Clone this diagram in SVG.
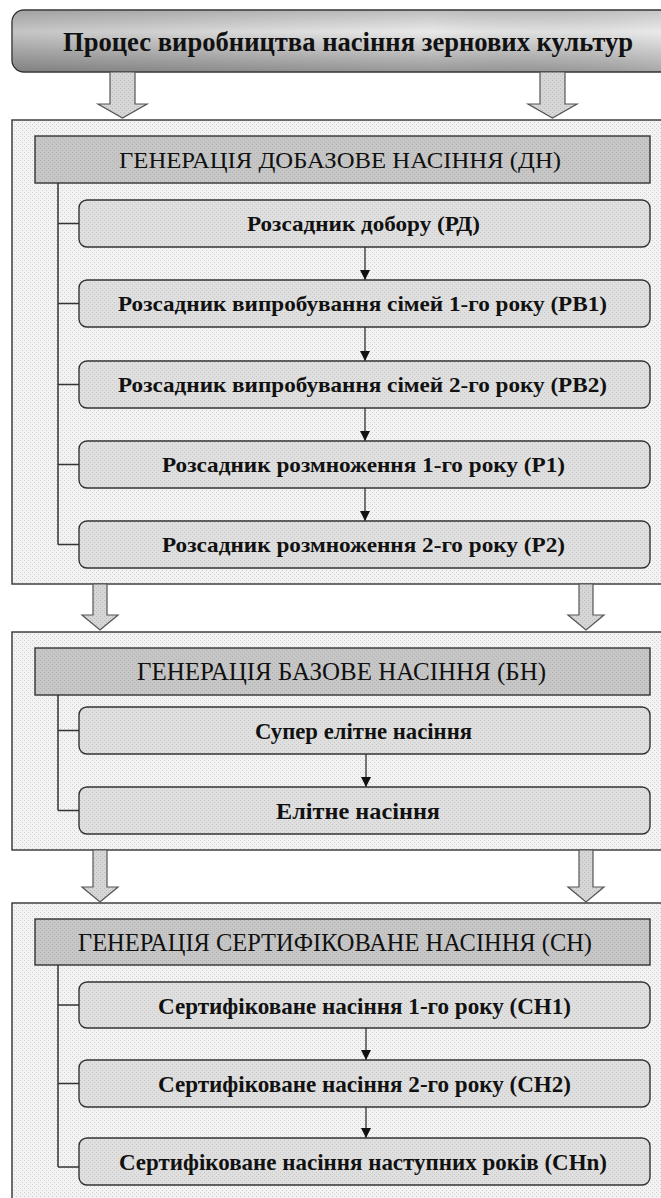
<svg xmlns="http://www.w3.org/2000/svg" width="661" height="1198" viewBox="0 0 661 1198">
<style>
.panel{fill:url(#pPanel);stroke:#333;stroke-width:1.4}
.hdr{fill:url(#pHdr);stroke:#333;stroke-width:1.4}
.box{fill:url(#pBox);stroke:#333;stroke-width:1.4}
.blk{fill:url(#pArrow);stroke:#555;stroke-width:1.2}
.tree{fill:none;stroke:#333;stroke-width:1.5}
.flow{fill:none;stroke:#222;stroke-width:1.2;marker-end:url(#tri)}
text{font-family:"Liberation Serif","Times New Roman",serif;fill:#111;text-anchor:middle}
.t{font-size:28px;font-weight:bold}
.h{font-size:24px}
.h2{font-size:26px}
.b{font-size:22px;font-weight:bold}
.c{font-size:24px;font-weight:bold}
</style>
<defs>
<pattern id="pPanel" width="4" height="4" patternUnits="userSpaceOnUse"><rect width="4" height="4" fill="#f3f3f3"/><rect width="1" height="1" fill="#cfcfcf"/><rect x="2" y="2" width="1" height="1" fill="#cfcfcf"/></pattern>
<pattern id="pHdr" width="4" height="4" patternUnits="userSpaceOnUse"><rect width="4" height="4" fill="#c6c6c6"/><rect width="1" height="1" fill="#b2b2b2"/><rect x="2" y="2" width="1" height="1" fill="#b2b2b2"/></pattern>
<pattern id="pBox" width="4" height="4" patternUnits="userSpaceOnUse"><rect width="4" height="4" fill="#dfdfdf"/><rect width="1" height="1" fill="#c9c9c9"/><rect x="2" y="2" width="1" height="1" fill="#c9c9c9"/></pattern>
<pattern id="pArrow" width="4" height="4" patternUnits="userSpaceOnUse"><rect width="4" height="4" fill="#d6d6d6"/><rect width="1" height="1" fill="#bdbdbd"/><rect x="2" y="2" width="1" height="1" fill="#bdbdbd"/></pattern>
<linearGradient id="gTop" x1="0" y1="0" x2="0" y2="1"><stop offset="0" stop-color="#c4c4c4"/><stop offset="0.35" stop-color="#f0f0f0"/><stop offset="1" stop-color="#9c9c9c"/></linearGradient>
<linearGradient id="gShade" x1="0" y1="0" x2="1" y2="0"><stop offset="0" stop-color="#000" stop-opacity="0.18"/><stop offset="0.6" stop-color="#000" stop-opacity="0.03"/><stop offset="1" stop-color="#fff" stop-opacity="0.25"/></linearGradient>
<marker id="tri" viewBox="0 0 10 10" refX="10" refY="5" markerWidth="10" markerHeight="10" markerUnits="userSpaceOnUse" orient="auto"><path d="M0,0 L10,5 L0,10 Z" fill="#111"/></marker>
</defs>

<g id="title">
<rect x="12" y="10" width="700" height="62" rx="12" fill="url(#gTop)" stroke="#333" stroke-width="1.4"/>
<rect x="13" y="11" width="698" height="60" rx="11" fill="url(#gShade)"/>
<text class="t" x="348" y="51" textLength="570" lengthAdjust="spacingAndGlyphs">Процес виробництва насіння зернових культур</text>
</g>

<g id="panel-dn">
<rect class="panel" x="12" y="120" width="700" height="464"/>
</g>
<g id="panel-bn">
<rect class="panel" x="12" y="632" width="700" height="218"/>
</g>
<g id="panel-sn">
<rect class="panel" x="12" y="903" width="700" height="320"/>
</g>

<g id="connectors">
<path class="blk" d="M110,72 L135,72 L135,104 L147,104 L122.5,118 L98,104 L110,104 Z"/>
<path class="blk" d="M540,72 L565,72 L565,104 L577,104 L552.5,118 L528,104 L540,104 Z"/>
<path class="blk" d="M93,584 L107,584 L107,615 L118,615 L100,630 L82,615 L93,615 Z"/>
<path class="blk" d="M579,584 L593,584 L593,615 L604,615 L586,630 L568,615 L579,615 Z"/>
<path class="blk" d="M93,850 L107,850 L107,887 L118,887 L100,902 L82,887 L93,887 Z"/>
<path class="blk" d="M579,850 L593,850 L593,887 L604,887 L586,902 L568,887 L579,887 Z"/>
<path class="tree" d="M58,183 V544.5 M58,223.5 H79 M58,303.5 H79 M58,384.5 H79 M58,464.5 H79 M58,544.5 H79"/>
<path class="tree" d="M58,695 V810.5 M58,730.5 H79 M58,810.5 H79"/>
<path class="tree" d="M58,965 V1167 M58,1005 H79 M58,1083.5 H79 M58,1167 H79"/>
<line class="flow" x1="365" y1="247" x2="365" y2="280"/>
<line class="flow" x1="365" y1="327" x2="365" y2="361"/>
<line class="flow" x1="365" y1="408" x2="365" y2="441"/>
<line class="flow" x1="365" y1="488" x2="365" y2="521"/>
<line class="flow" x1="366" y1="754" x2="366" y2="787"/>
<line class="flow" x1="366" y1="1028" x2="366" y2="1060"/>
<line class="flow" x1="366" y1="1107" x2="366" y2="1138"/>
</g>

<g id="hdr-dn"><rect class="hdr" x="35" y="136" width="615" height="47"/><text class="h" x="340" y="168" textLength="442" lengthAdjust="spacingAndGlyphs">ГЕНЕРАЦІЯ ДОБАЗОВЕ НАСІННЯ (ДН)</text></g>
<g id="rd"><rect class="box" x="79" y="200" width="571" height="47" rx="8"/><text class="b" x="363.5" y="231" textLength="233" lengthAdjust="spacingAndGlyphs">Розсадник добору (РД)</text></g>
<g id="rv1"><rect class="box" x="79" y="280" width="571" height="47" rx="8"/><text class="b" x="362.5" y="311" textLength="489" lengthAdjust="spacingAndGlyphs">Розсадник випробування сімей 1-го року (РВ1)</text></g>
<g id="rv2"><rect class="box" x="79" y="361" width="571" height="47" rx="8"/><text class="b" x="362.5" y="392" textLength="489" lengthAdjust="spacingAndGlyphs">Розсадник випробування сімей 2-го року (РВ2)</text></g>
<g id="r1"><rect class="box" x="79" y="441" width="571" height="47" rx="8"/><text class="b" x="363.5" y="472" textLength="403" lengthAdjust="spacingAndGlyphs">Розсадник розмноження 1-го року (Р1)</text></g>
<g id="r2"><rect class="box" x="79" y="521" width="571" height="47" rx="8"/><text class="b" x="363.5" y="552" textLength="403" lengthAdjust="spacingAndGlyphs">Розсадник розмноження 2-го року (Р2)</text></g>

<g id="hdr-bn"><rect class="hdr" x="35" y="648" width="615" height="47"/><text class="h2" x="341.5" y="680" textLength="409" lengthAdjust="spacingAndGlyphs">ГЕНЕРАЦІЯ БАЗОВЕ НАСІННЯ (БН)</text></g>
<g id="super"><rect class="box" x="79" y="707" width="571" height="47" rx="8"/><text class="c" x="363.5" y="739" textLength="217" lengthAdjust="spacingAndGlyphs">Супер елітне насіння</text></g>
<g id="elite"><rect class="box" x="79" y="787" width="571" height="47" rx="8"/><text class="c" x="358" y="819" textLength="164" lengthAdjust="spacingAndGlyphs">Елітне насіння</text></g>

<g id="hdr-sn"><rect class="hdr" x="35" y="919" width="615" height="46"/><text class="h2" x="335" y="951" textLength="514" lengthAdjust="spacingAndGlyphs">ГЕНЕРАЦІЯ СЕРТИФІКОВАНЕ НАСІННЯ (СН)</text></g>
<g id="sn1"><rect class="box" x="79" y="982" width="571" height="46" rx="8"/><text class="c" x="364.5" y="1014" textLength="413" lengthAdjust="spacingAndGlyphs">Сертифіковане насіння 1-го року (СН1)</text></g>
<g id="sn2"><rect class="box" x="79" y="1060" width="571" height="47" rx="8"/><text class="c" x="364.5" y="1092" textLength="413" lengthAdjust="spacingAndGlyphs">Сертифіковане насіння 2-го року (СН2)</text></g>
<g id="snn"><rect class="box" x="79" y="1138" width="571" height="47" rx="8"/><text class="c" x="363" y="1170" textLength="488" lengthAdjust="spacingAndGlyphs">Сертифіковане насіння наступних років (СНn)</text></g>
</svg>
